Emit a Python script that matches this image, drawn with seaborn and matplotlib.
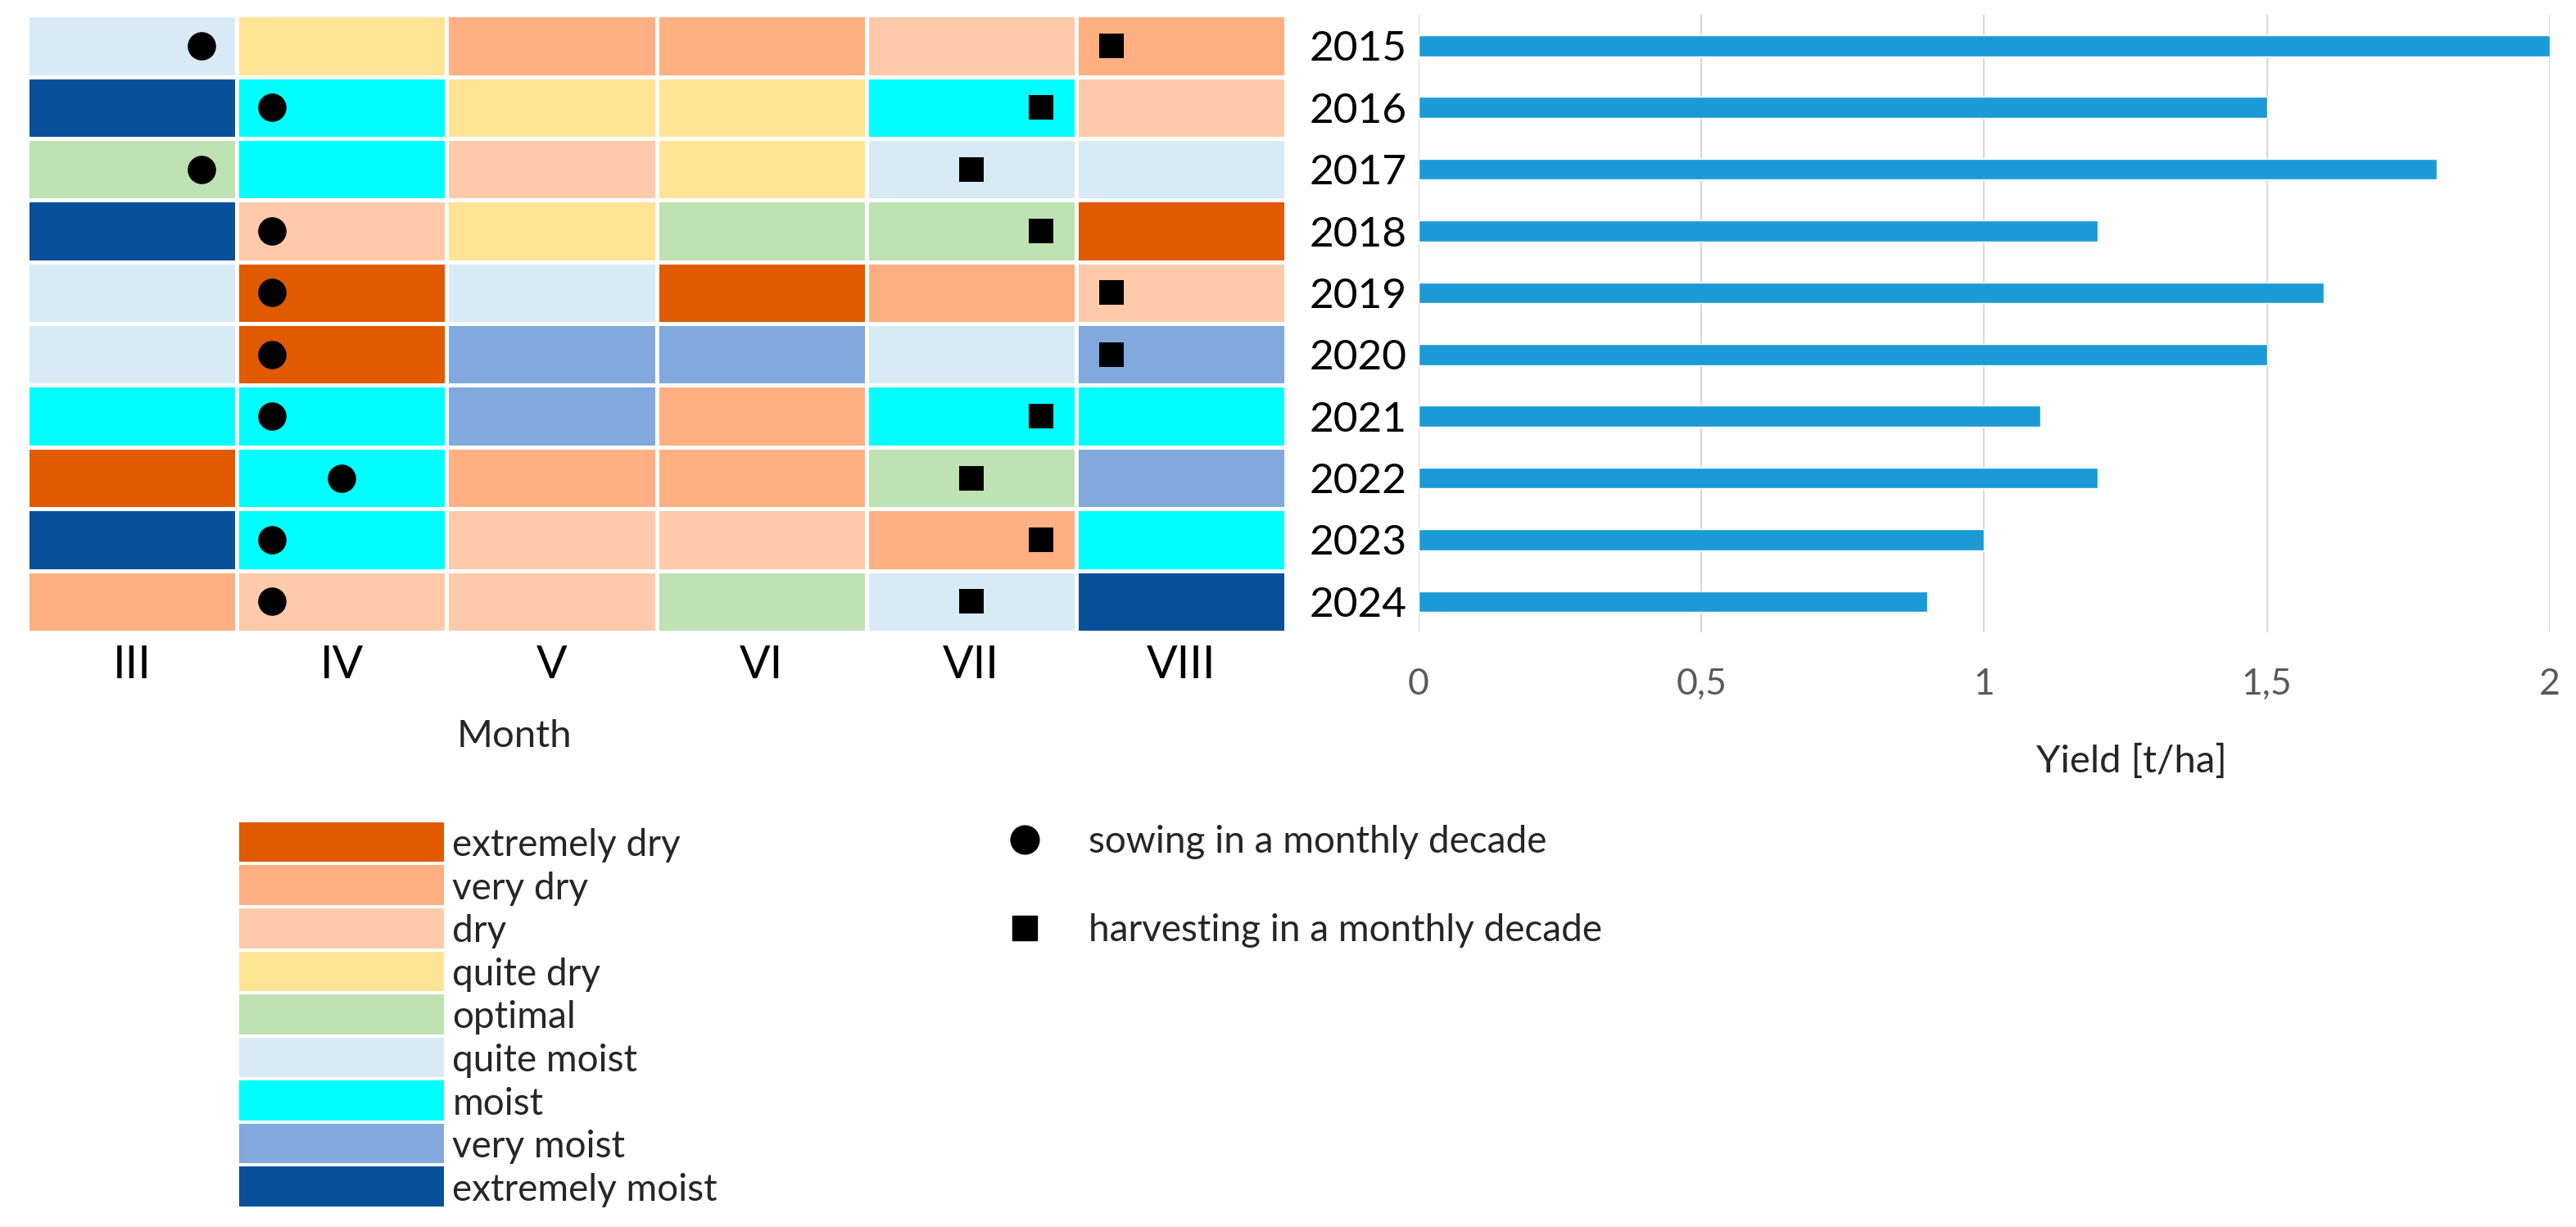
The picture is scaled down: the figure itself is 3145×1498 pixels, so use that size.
import numpy as np
import pandas as pd
import matplotlib
matplotlib.use('Agg')
import matplotlib.pyplot as plt
import seaborn as sns
from matplotlib.colors import ListedColormap
from matplotlib.lines import Line2D

# data
years = [str(y) for y in range(2015, 2025)]
months = ['III', 'IV', 'V', 'VI', 'VII', 'VIII']
classes = ['extremely dry', 'very dry', 'dry', 'quite dry', 'optimal',
           'quite moist', 'moist', 'very moist', 'extremely moist']
class_colors = ['#E15A00', '#FFAF82', '#FFCAAA', '#FFE496', '#BEE2B2',
                '#D8EAF6', '#00FFFF', '#81A9DD', '#09509A']

# moisture class (index into classes) per year and month
moisture = [
    [5, 3, 1, 1, 2, 1],  # 2015
    [8, 6, 3, 3, 6, 2],  # 2016
    [4, 6, 2, 3, 5, 5],  # 2017
    [8, 2, 3, 4, 4, 0],  # 2018
    [5, 0, 5, 0, 1, 2],  # 2019
    [5, 0, 7, 7, 5, 7],  # 2020
    [6, 6, 7, 1, 6, 6],  # 2021
    [0, 6, 1, 1, 4, 7],  # 2022
    [8, 6, 2, 2, 1, 6],  # 2023
    [1, 2, 2, 4, 5, 8],  # 2024
]

sow_month = ['III', 'IV', 'III', 'IV', 'IV', 'IV', 'IV', 'IV', 'IV', 'IV']
sow_decade = [3, 1, 3, 1, 1, 1, 1, 2, 1, 1]
harvest_month = ['VIII', 'VII', 'VII', 'VII', 'VIII', 'VIII', 'VII', 'VII', 'VII', 'VII']
harvest_decade = [1, 3, 2, 3, 1, 1, 3, 2, 3, 2]

yield_t_ha = [2.0, 1.5, 1.8, 1.2, 1.6, 1.5, 1.1, 1.2, 1.0, 0.9]
yield_ticks = [0, 0.5, 1, 1.5, 2]
yield_tick_labels = ['0', '0,5', '1', '1,5', '2']

marker_labels = ['sowing in a monthly decade', 'harvesting in a monthly decade']

sns.set_style('white')
plt.rcParams['font.family'] = ['Lato', 'DejaVu Sans']

fig = plt.figure(figsize=(31.45, 14.98), dpi=100)
ax1 = fig.add_axes([0.0105, 0.4846, 0.4887, 0.5033])
ax2 = fig.add_axes([0.5507, 0.4846, 0.4391, 0.5033])
ax3 = fig.add_axes([0.0922, 0.0154, 0.0808, 0.3158])

cmap = ListedColormap(class_colors)

# moisture heatmap
moist_df = pd.DataFrame(moisture, index=years, columns=months)
sns.heatmap(moist_df, cmap=cmap, vmin=-0.5, vmax=8.5, cbar=False,
            linewidths=2.5, linecolor='white', yticklabels=False, ax=ax1)

# sowing / harvest in decade of month
def decade_pos(m, d):
    return months.index(m) + (d - 0.5) / 3

rows = np.arange(len(years)) + 0.5
sow_x = [decade_pos(m, d) for m, d in zip(sow_month, sow_decade)]
harv_x = [decade_pos(m, d) for m, d in zip(harvest_month, harvest_decade)]
sns.scatterplot(x=sow_x, y=rows, marker='o', s=620, color='black',
                linewidth=0, legend=False, ax=ax1)
sns.scatterplot(x=harv_x, y=rows, marker='s', s=480, color='black',
                linewidth=0, legend=False, ax=ax1)
ax1.set_xlim(0, len(months))
ax1.set_ylim(len(years), 0)
ax1.set_ylabel('')
ax1.tick_params(axis='x', length=0, pad=11, labelsize=40, labelcolor='black')
ax1.set_xticklabels(months, rotation=0)
ax1.set_xlabel('Month', fontsize=34)
ax1.xaxis.set_label_coords(0.387, -0.14)

# yield bars
yield_df = pd.DataFrame({'year': years, 'yield': yield_t_ha})
sns.barplot(data=yield_df, x='yield', y='year', color='#1B9AD7',
            saturation=1, width=0.34, ax=ax2)
ax2.set_xlim(0, 2)
ax2.set_xticks(yield_ticks)
ax2.set_xticklabels(yield_tick_labels)
ax2.xaxis.grid(True, color='#D9D9D9', lw=1.5)
ax2.set_axisbelow(True)
sns.despine(ax=ax2, left=True, bottom=True)
ax2.tick_params(axis='x', length=0, pad=31, labelsize=32, labelcolor='#595959')
ax2.tick_params(axis='y', length=0, pad=10, labelsize=37, labelcolor='black')
ax2.set_ylabel('')
ax2.set_xlabel('Yield [t/ha]', fontsize=34, color='#262626')
ax2.xaxis.set_label_coords(0.63, -0.18)

# colour key
sns.heatmap(np.arange(len(classes)).reshape(-1, 1), cmap=cmap, vmin=-0.5, vmax=8.5,
            cbar=False, linewidths=1.5, linecolor='white',
            xticklabels=False, yticklabels=classes, ax=ax3)
ax3.yaxis.tick_right()
ax3.set_yticklabels(classes, rotation=0, ha='left', fontsize=33)
ax3.tick_params(axis='y', length=0, pad=6)

# marker key
handles = [Line2D([0], [0], marker='o', ls='', color='black', markersize=25),
           Line2D([0], [0], marker='s', ls='', color='black', markersize=22)]
fig.legend(handles, marker_labels, loc='upper left', bbox_to_anchor=(0.3905, 0.328),
           frameon=False, fontsize=33, handlelength=1, handletextpad=1.2,
           labelspacing=1.45, borderpad=0, borderaxespad=0)

fig.savefig('out.png', dpi=100)
